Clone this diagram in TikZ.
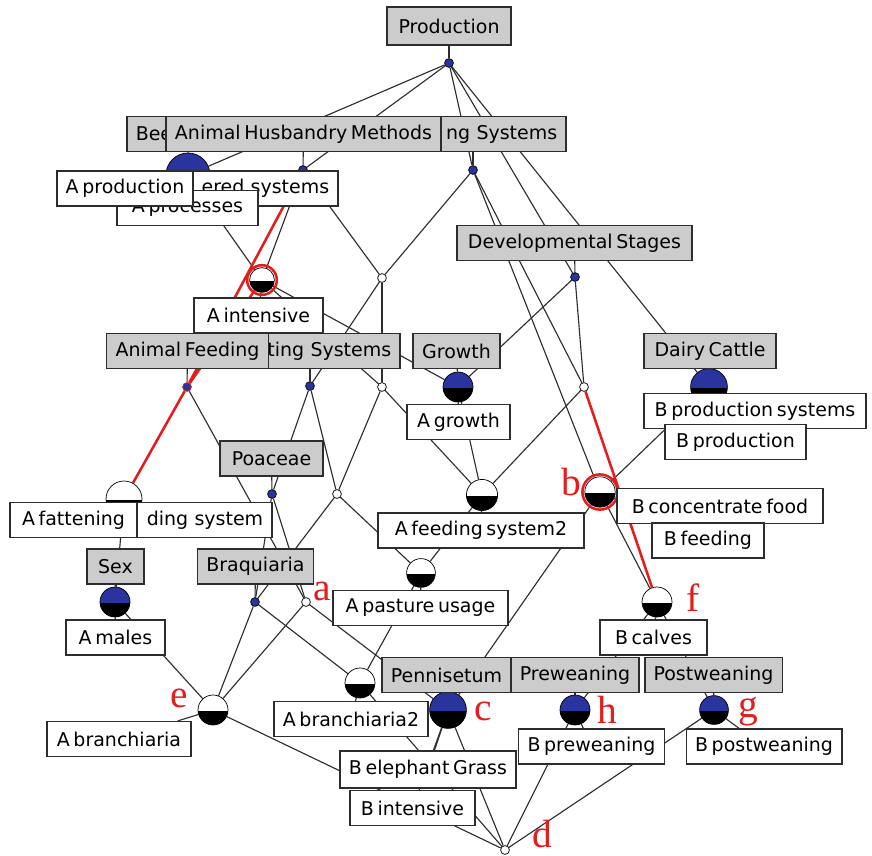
\documentclass[tikz,border=0pt]{standalone}
\usepackage{fontspec}
\setmainfont{DejaVu Sans}[WordSpace=0.6]
\newfontfamily\letterfont{Liberation Serif}
\definecolor{cblue}{RGB}{42,52,158}
\definecolor{boxgray}{RGB}{204,204,204}
\definecolor{edgec}{RGB}{45,45,45}
\definecolor{hired}{RGB}{228,28,28}
\pgfdeclarelayer{paper}
\pgfdeclarelayer{edges}
\pgfsetlayers{paper,edges,main}
\tikzset{
  lbl/.style={draw=edgec, line width=1.1pt, minimum height=0.87cm, inner xsep=0.22cm, inner ysep=0pt,
              font=\fontsize{13.5}{16}\selectfont, text=black},
  attr/.style={lbl, fill=boxgray},
  obj/.style={lbl, fill=white},
  edge/.style={draw=edgec, line width=0.8pt},
  hot/.style={draw=hired, line width=1.8pt},
  dot/.style={circle, draw=black, line width=0.5pt, inner sep=0pt, minimum size=0.22cm},
  bdot/.style={dot, fill=cblue},
  wdot/.style={dot, fill=white},
  concept/.style={circle, draw=black, line width=0.5pt, inner sep=0pt, minimum size=#1,
    path picture={\fill[black] (path picture bounding box.west) ++(0,-1pt) rectangle (path picture bounding box.south east);}},
  wcon/.style={concept=#1, fill=white},
  bcon/.style={concept=#1, fill=cblue},
  ring/.style={circle, draw=hired, line width=1.8pt, inner sep=0pt, minimum size=#1},
  tag/.style={text=hired, font=\letterfont\fontsize{28}{28}\selectfont, inner sep=0pt},
}
\begin{document}
\begin{tikzpicture}[x=0.025cm, y=-0.025cm]
\useasboundingbox (0,0) rectangle (872,855);
\begin{pgfonlayer}{paper}
  \fill[white] (0,0) rectangle (872,855);
\end{pgfonlayer}

% ---- concepts of the lattice ----
\node[bdot] (n0) at (449,63) {};
\node[bcon=1.1cm] (beef) at (188,175) {};
\node[bdot] (ahm) at (303,170) {};
\node[bdot] (ngs) at (473,170) {};
\node[wcon=0.62cm] (aint) at (262,280) {};
\node[wdot] (w1) at (382,278) {};
\node[bdot] (dev) at (575,277) {};
\node[bdot, draw=hired] (af) at (187,387) {};
\node[bdot] (ts) at (310,386) {};
\node[wdot] (w2) at (382,387) {};
\node[bcon=0.75cm] (gr) at (458,387) {};
\node[wdot] (w3) at (584,387) {};
\node[bcon=0.92cm] (dairy) at (709,387) {};
\node[wcon=0.9cm] (afat) at (124,499) {};
\node[bdot] (poa) at (272,494) {};
\node[wdot] (w4) at (337,494) {};
\node[wcon=0.78cm] (afs) at (482,495) {};
\node[wcon=0.76cm] (bb) at (600,492) {};
\node[bdot] (braq) at (255,602) {};
\node[wdot] (wa) at (306,602) {};
\node[wcon=0.72cm] (apu) at (421,573) {};
\node[bcon=0.75cm] (sex) at (115,602) {};
\node[wcon=0.75cm] (ff) at (657,602) {};
\node[wcon=0.75cm] (ee) at (213,710) {};
\node[wcon=0.75cm] (ab2) at (360,683) {};
\node[bcon=0.92cm] (cc) at (448,710) {};
\node[bcon=0.75cm] (hh) at (575,710) {};
\node[bcon=0.72cm] (gg) at (714,710) {};
\node[wdot] (dd) at (505,850) {};

% highlighted concepts
\node[ring=0.74cm] (aintring) at (aint) {};
\node[ring=0.88cm] (bbring) at (bb) {};

% ---- attribute and object labels ----
\node[attr, text width=2.635cm, align=left] (lBee) at (188.5,134) {Bee};
\node[attr, text width=4.21cm, align=right] (lNgs) at (473,134) {ng Systems};
\node[attr, minimum width=6.825cm] (lAhm) at (303.5,134) {Animal Husbandry Methods};
\node[attr, minimum width=3.1cm, minimum height=0.95cm] (lProd) at (449,26) {Production};

\node[obj, text width=5.01cm, align=right] (lEred) at (229,188.5) {ered systems};
\node[obj, minimum width=3.525cm] (lAproc) at (187.5,208) {A processes};
\node[obj, minimum width=3.4cm] (lAprod) at (125,188.5) {A production};

\node[attr, minimum width=5.875cm] (lDev) at (574.5,243) {Developmental Stages};
\node[attr, text width=4.06cm, align=right] (lTs) at (310,351) {ting Systems};
\node[attr, minimum width=3.975cm] (lAf) at (187.5,351) {Animal Feeding};
\node[attr, minimum width=2.175cm] (lGr) at (456.5,351) {Growth};
\node[attr, minimum width=3.3cm] (lDairy) at (710,351) {Dairy Cattle};
\node[obj, minimum width=3.225cm] (lAint) at (258.5,315.5) {A intensive};
\node[obj, minimum width=2.575cm] (lAgr) at (458.5,422) {A growth};
\node[obj, minimum width=5.55cm] (lBps) at (755,411) {B production systems};
\node[obj, minimum width=3.525cm] (lBp) at (735.5,442) {B production};
\node[attr, minimum width=2.575cm] (lPoa) at (271.5,458.5) {Poaceae};
\node[obj, text width=4.36cm, align=right] (lDing) at (176,520) {ding system};
\node[obj, minimum width=3.175cm] (lAfat) at (73.5,520) {A fattening};
\node[obj, minimum width=5.15cm] (lBcf) at (720,506) {B concentrate food};
\node[obj, minimum width=2.8cm] (lBfeed) at (708,540.5) {B feeding};
\node[obj, minimum width=5.15cm] (lAfs) at (481,530.5) {A feeding system2};
\node[attr, minimum width=1.425cm] (lSex) at (115.5,566.5) {Sex};
\node[attr, minimum width=2.825cm] (lBraq) at (255.5,566.5) {Braquiaria};
\node[obj, minimum width=4.375cm] (lApu) at (420.5,608) {A pasture usage};
\node[obj, minimum width=2.475cm] (lMales) at (115.5,637.5) {A males};
\node[obj, minimum width=2.675cm] (lCalves) at (653.5,637.5) {B calves};
\node[attr, minimum width=3.175cm] (lPenn) at (446.5,675) {Pennisetum};
\node[attr, minimum width=3.05cm] (lPrew) at (575,675) {Preweaning};
\node[attr, minimum width=3.375cm] (lPostw) at (713.5,675) {Postweaning};
\node[obj, minimum width=3.6cm] (lAbr) at (119,739) {A branchiaria};
\node[obj, minimum width=3.85cm] (lAbr2) at (351,719) {A branchiaria2};
\node[obj, minimum width=3.525cm] (lBprew) at (591.5,746.5) {B preweaning};
\node[obj, minimum width=3.85cm] (lBpostw) at (764,746.5) {B postweaning};
\node[obj, minimum width=4.3cm, minimum height=0.92cm] (lBeg) at (428,769.5) {B elephant Grass};
\node[obj, minimum width=3.125cm] (lBint) at (412.5,808) {B intensive};

% ---- concept tags ----
\node[tag] (ta) at (322,591) {a};
\node[tag] (tb) at (571,482) {b};
\node[tag] (tc) at (483,711) {c};
\node[tag] (td) at (542,834) {d};
\node[tag] (te) at (179,698) {e};
\node[tag] (tf) at (693,598) {f};
\node[tag] (tg) at (748,712) {g};
\node[tag] (th) at (607,710) {h};

\begin{pgfonlayer}{edges}
  % lattice lines
  \draw[edge] (n0) -- (beef);  \draw[edge] (n0) -- (ahm);  \draw[edge] (n0) -- (ngs);
  \draw[edge] (n0) -- (dev);   \draw[edge] (n0) -- (dairy);
  \draw[edge] (beef) -- (aint);
  \draw[edge] (ahm) -- (aint); \draw[edge] (ahm) -- (w1);
  \draw[edge] (ngs) -- (w1);   \draw[edge] (ngs) -- (w3);  \draw[edge] (ngs) -- (bb);
  \draw[edge] (w1) -- (w2);    \draw[edge] (w1) -- (ts);
  \draw[edge] (dev) -- (gr);   \draw[edge] (dev) -- (w3);
  \draw[edge] (aint) -- (w2);  \draw[edge] (aint) -- (gr);
  \draw[edge] (af) -- (wa);
  \draw[edge] (ts) -- (w4);    \draw[edge] (ts) -- (poa);
  \draw[edge] (w2) -- (w4);    \draw[edge] (w2) -- (afs);
  \draw[edge] (gr) -- (afs);   \draw[edge] (w3) -- (afs);
  \draw[edge] (dairy) -- (bb);
  \draw[edge] (afat) -- (sex);
  \draw[edge] (poa) -- (braq); \draw[edge] (poa) -- (wa);
  \draw[edge] (w4) -- (apu);   \draw[edge] (w4) -- (braq);
  \draw[edge] (afs) -- (apu);
  \draw[edge] (bb) -- (ff);    \draw[edge] (bb) -- (cc);
  \draw[edge] (braq) -- (ee);  \draw[edge] (braq) -- (ab2);
  \draw[edge] (wa) -- (ee);    \draw[edge] (wa) -- (cc);
  \draw[edge] (apu) -- (ab2);
  \draw[edge] (sex) -- (ee);
  \draw[edge] (ff) -- (hh);    \draw[edge] (ff) -- (gg);
  \draw[edge] (ee) -- (dd);    \draw[edge] (ab2) -- (dd);   \draw[edge] (cc) -- (dd);
  \draw[edge] (hh) -- (dd);    \draw[edge] (gg) -- (dd);
  % label connectors
  \draw[edge] (n0) -- (lProd);   \draw[edge] (beef) -- (lBee);  \draw[edge] (ahm) -- (lAhm);
  \draw[edge] (ngs) -- (lNgs);   \draw[edge] (dev) -- (lDev);   \draw[edge] (af) -- (lAf);
  \draw[edge] (ts) -- (lTs);     \draw[edge] (gr) -- (lGr);     \draw[edge] (dairy) -- (lDairy);
  \draw[edge] (poa) -- (lPoa);   \draw[edge] (sex) -- (lSex);   \draw[edge] (braq) -- (lBraq);
  \draw[edge] (cc) -- (lPenn);   \draw[edge] (hh) -- (lPrew);   \draw[edge] (gg) -- (lPostw);
  \draw[edge] (beef) -- (lAprod); \draw[edge] (beef) -- (lEred); \draw[edge] (beef) -- (lAproc);
  \draw[edge] (aint) -- (lAint); \draw[edge] (gr) -- (lAgr);
  \draw[edge] (dairy) -- (lBps); \draw[edge] (dairy) -- (lBp);
  \draw[edge] (afat) -- (lAfat); \draw[edge] (afat) -- (lDing);
  \draw[edge] (bb) -- (lBcf);    \draw[edge] (bb) -- (lBfeed);
  \draw[edge] (afs) -- (lAfs);   \draw[edge] (apu) -- (lApu);
  \draw[edge] (sex) -- (lMales); \draw[edge] (ff) -- (lCalves);
  \draw[edge] (ee) -- (lAbr);    \draw[edge] (ab2) -- (lAbr2);
  \draw[edge] (cc) -- (lBeg);    \draw[edge] (cc) -- (lBint);
  \draw[edge] (hh) -- (lBprew);  \draw[edge] (gg) -- (lBpostw);
  % highlighted path
  \draw[hot] (ahm) -- (af);
  \draw[hot] (aint) -- (af);
  \draw[hot] (af) -- (afat);
  \draw[hot] (w3) -- (ff);
\end{pgfonlayer}
\end{tikzpicture}
\end{document}
